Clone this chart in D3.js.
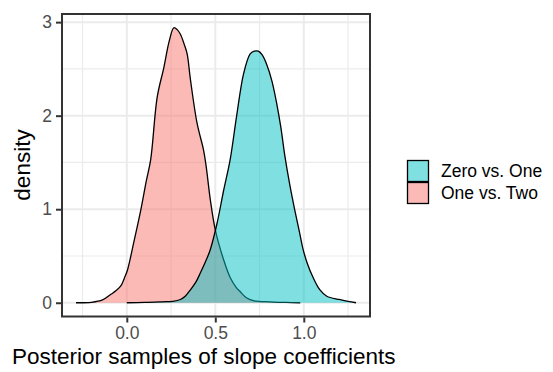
<!DOCTYPE html>
<html>
<head>
<meta charset="utf-8">
<script src="https://cdnjs.cloudflare.com/ajax/libs/d3/7.8.5/d3.min.js"></script>
<style>
  body { margin: 0; background: #fff; }
  text { font-family: "Liberation Sans", Arial, sans-serif; }
</style>
</head>
<body>
<svg id="chart" width="553" height="372"></svg>
<script>
// density estimates
var oneTwoX = [-0.287, -0.2, -0.137, -0.09, -0.06, -0.034, -0.01, 0.004, 0.04, 0.079, 0.11, 0.135, 0.172, 0.21, 0.24, 0.266, 0.285, 0.303, 0.325, 0.341, 0.36, 0.397, 0.434, 0.449, 0.472, 0.5, 0.547, 0.584, 0.62, 0.64, 0.678, 0.72, 0.81, 0.9, 0.98];
var oneTwoY = [0, 0.005, 0.03, 0.09, 0.13, 0.18, 0.28, 0.35, 0.65, 0.99, 1.3, 1.53, 2.2, 2.52, 2.8, 2.94, 2.92, 2.87, 2.76, 2.66, 2.38, 1.92, 1.63, 1.45, 1.1, 0.78, 0.46, 0.27, 0.16, 0.12, 0.05, 0.02, 0.01, 0.003, 0];
var zeroOneX = [0.0, 0.1, 0.2, 0.26, 0.303, 0.33, 0.36, 0.39, 0.416, 0.445, 0.472, 0.51, 0.547, 0.584, 0.62, 0.66, 0.697, 0.72, 0.743, 0.765, 0.79, 0.82, 0.847, 0.87, 0.893, 0.92, 0.949, 0.975, 0.996, 1.02, 1.05, 1.09, 1.13, 1.2, 1.25, 1.295];
var zeroOneY = [0, 0.003, 0.01, 0.015, 0.035, 0.07, 0.14, 0.22, 0.32, 0.44, 0.57, 0.85, 1.2, 1.53, 1.99, 2.45, 2.66, 2.69, 2.69, 2.65, 2.55, 2.37, 2.13, 1.88, 1.57, 1.27, 0.99, 0.76, 0.57, 0.42, 0.28, 0.14, 0.07, 0.035, 0.015, 0];

var groups = ["Zero vs. One", "One vs. Two"];
var groupColors = ["#00BFC4", "#F8766D"];
var xTicks = [0.0, 0.5, 1.0];
var xMinor = [-0.25, 0.25, 0.75, 1.25];
var yTicks = [0, 1, 2, 3];
var yMinor = [0.5, 1.5, 2.5];

var svg = d3.select('#chart');
var panel = {left: 62, right: 370, top: 14, bottom: 316.5};

var x = d3.scaleLinear().domain([-0.366, 1.374]).range([panel.left, panel.right]);
var y = d3.scaleLinear().domain([-0.147, 3.087]).range([panel.bottom, panel.top]);

// gridlines
var grid = svg.append('g');
xMinor.forEach(function(v){
  grid.append('line').attr('x1', x(v)).attr('x2', x(v)).attr('y1', panel.top).attr('y2', panel.bottom)
    .attr('stroke', '#EBEBEB').attr('stroke-width', 1.2);
});
yMinor.forEach(function(v){
  grid.append('line').attr('x1', panel.left).attr('x2', panel.right).attr('y1', y(v)).attr('y2', y(v))
    .attr('stroke', '#EBEBEB').attr('stroke-width', 1.2);
});
xTicks.forEach(function(v){
  grid.append('line').attr('x1', x(v)).attr('x2', x(v)).attr('y1', panel.top).attr('y2', panel.bottom)
    .attr('stroke', '#EBEBEB').attr('stroke-width', 2);
});
yTicks.forEach(function(v){
  grid.append('line').attr('x1', panel.left).attr('x2', panel.right).attr('y1', y(v)).attr('y2', y(v))
    .attr('stroke', '#EBEBEB').attr('stroke-width', 2);
});

// densities
var curve = d3.curveCatmullRom.alpha(0.5);
var area = d3.area().x(function(d){ return x(d[0]); }).y0(y(0)).y1(function(d){ return y(d[1]); }).curve(curve);
var line = d3.line().x(function(d){ return x(d[0]); }).y(function(d){ return y(d[1]); }).curve(curve);

var series = [
  {name: groups[1], color: groupColors[1], pts: d3.zip(oneTwoX, oneTwoY)},
  {name: groups[0], color: groupColors[0], pts: d3.zip(zeroOneX, zeroOneY)}
];
series.forEach(function(s){
  svg.append('path').attr('d', area(s.pts)).attr('fill', s.color).attr('fill-opacity', 0.5);
  svg.append('path').attr('d', line(s.pts)).attr('fill', 'none').attr('stroke', '#000').attr('stroke-width', 1.3);
});

// panel border
svg.append('rect').attr('x', panel.left).attr('y', panel.top)
  .attr('width', panel.right - panel.left).attr('height', panel.bottom - panel.top)
  .attr('fill', 'none').attr('stroke', '#333333').attr('stroke-width', 2);

// axes
var xAxis = d3.axisBottom(x).tickValues(xTicks).tickFormat(d3.format('.1f')).tickSize(5).tickPadding(4);
var gx = svg.append('g').attr('transform', 'translate(0,' + (panel.bottom + 1) + ')').call(xAxis);
var yAxis = d3.axisLeft(y).tickValues(yTicks).tickFormat(d3.format('d')).tickSize(5).tickPadding(4);
var gy = svg.append('g').attr('transform', 'translate(' + (panel.left - 1) + ',0)').call(yAxis);
[gx, gy].forEach(function(g){
  g.select('.domain').remove();
  g.selectAll('.tick line').attr('stroke', '#333333').attr('stroke-width', 2);
  g.selectAll('.tick text').attr('fill', '#4D4D4D').style('font-size', '17.5px')
    .style('font-family', '"Liberation Sans", Arial, sans-serif');
});

// axis titles
svg.append('text').attr('x', 12).attr('y', 364).attr('fill', '#000').style('font-size', '22.5px')
  .text('Posterior samples of slope coefficients');
svg.append('text').attr('transform', 'translate(30,165) rotate(-90)').attr('text-anchor', 'middle')
  .attr('fill', '#000').style('font-size', '22.5px').text('density');

// legend
var legend = svg.append('g').attr('transform', 'translate(407,160)');
groups.forEach(function(g, i){
  var row = legend.append('g').attr('transform', 'translate(0,' + (i * 22) + ')');
  row.append('rect').attr('x', 0.5).attr('y', 0.5).attr('width', 21).attr('height', 21)
    .attr('fill', groupColors[i]).attr('fill-opacity', 0.5).attr('stroke', '#000').attr('stroke-width', 1.3);
  row.append('text').attr('x', 34).attr('y', 11).attr('dy', '0.35em').attr('fill', '#000')
    .style('font-size', '17.5px').text(g);
});
</script>
</body>
</html>
